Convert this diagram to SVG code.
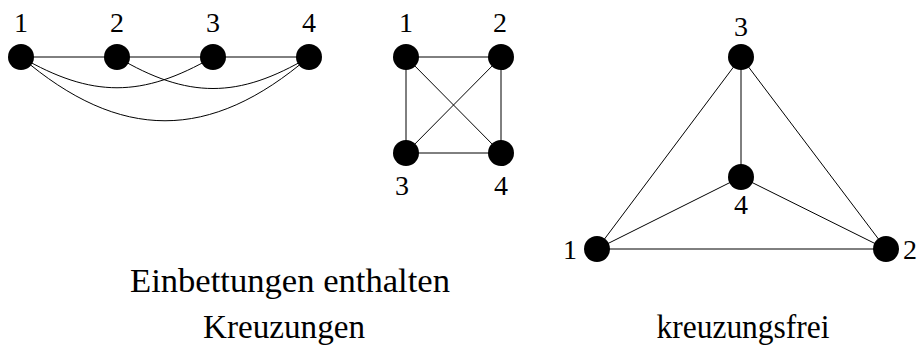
<svg xmlns="http://www.w3.org/2000/svg" width="922" height="345" viewBox="0 0 922 345">
<style>
.e{stroke:#000;stroke-width:1;fill:none}
.n{fill:#000}
.l{font-family:"Liberation Serif","DejaVu Serif",serif;font-size:28px;text-anchor:middle;fill:#000}
.t{font-family:"Liberation Serif","DejaVu Serif",serif;font-size:33px;text-anchor:middle;fill:#000}
</style>
<rect width="922" height="345" fill="#fff"/>
<g id="connectors">
<line class="e" x1="21" y1="57" x2="309" y2="57"/>
<path class="e" d="M21,57 C92,98 142,98 213,57"/>
<path class="e" d="M117,57 C188,99 238,99 309,57"/>
<path class="e" d="M21,57 C120,142 210,142 309,57"/>
<line class="e" x1="406" y1="57" x2="501" y2="57"/>
<line class="e" x1="406" y1="153" x2="501" y2="153"/>
<line class="e" x1="406" y1="57" x2="406" y2="153"/>
<line class="e" x1="501" y1="57" x2="501" y2="153"/>
<line class="e" x1="406" y1="57" x2="501" y2="153"/>
<line class="e" x1="501" y1="57" x2="406" y2="153"/>
<line class="e" x1="597" y1="249" x2="886" y2="249"/>
<line class="e" x1="597" y1="249" x2="741" y2="57"/>
<line class="e" x1="886" y1="249" x2="741" y2="57"/>
<line class="e" x1="741" y1="57" x2="741" y2="177"/>
<line class="e" x1="597" y1="249" x2="741" y2="177"/>
<line class="e" x1="886" y1="249" x2="741" y2="177"/>
</g>
<g id="a1"><circle class="n" cx="21" cy="57" r="13"/><text class="l" x="21" y="32">1</text></g>
<g id="a2"><circle class="n" cx="117" cy="57" r="13"/><text class="l" x="117" y="32">2</text></g>
<g id="a3"><circle class="n" cx="213" cy="57" r="13"/><text class="l" x="213" y="32">3</text></g>
<g id="a4"><circle class="n" cx="309" cy="57" r="13"/><text class="l" x="309" y="32">4</text></g>
<g id="b1"><circle class="n" cx="406" cy="57" r="13"/><text class="l" x="406" y="32">1</text></g>
<g id="b2"><circle class="n" cx="501" cy="57" r="13"/><text class="l" x="500" y="32">2</text></g>
<g id="b3"><circle class="n" cx="406" cy="153" r="13"/><text class="l" x="402" y="195">3</text></g>
<g id="b4"><circle class="n" cx="501" cy="153" r="13"/><text class="l" x="501" y="195">4</text></g>
<g id="c1"><circle class="n" cx="597" cy="249" r="13"/><text class="l" x="570" y="259">1</text></g>
<g id="c2"><circle class="n" cx="886" cy="249" r="13"/><text class="l" x="910" y="259">2</text></g>
<g id="c3"><circle class="n" cx="741" cy="57" r="13"/><text class="l" x="741" y="36">3</text></g>
<g id="c4"><circle class="n" cx="741" cy="177" r="13"/><text class="l" x="741" y="214">4</text></g>
<g id="captions">
<text class="t" x="290" y="292" textLength="320" lengthAdjust="spacingAndGlyphs">Einbettungen enthalten</text>
<text class="t" x="284" y="338" textLength="162" lengthAdjust="spacingAndGlyphs">Kreuzungen</text>
<text class="t" x="743" y="338" textLength="173" lengthAdjust="spacingAndGlyphs">kreuzungsfrei</text>
</g>
</svg>
